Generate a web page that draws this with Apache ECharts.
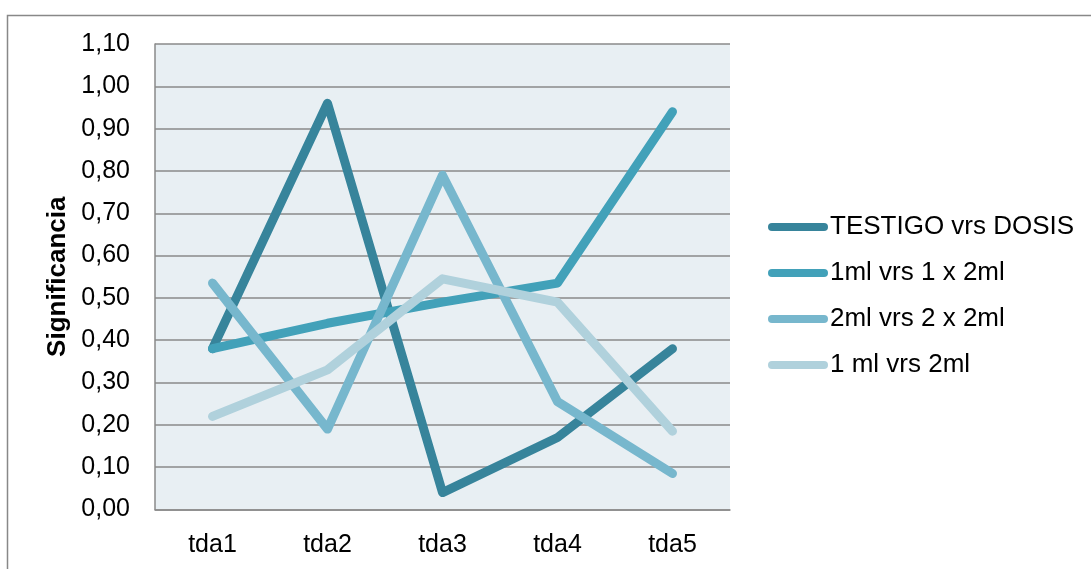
<!DOCTYPE html>
<html>
<head>
<meta charset="utf-8">
<script src="https://cdn.jsdelivr.net/npm/echarts@6/dist/echarts.min.js"></script>
<style>
  html, body { margin: 0; padding: 0; background: #ffffff; }
  #chart { width: 1091px; height: 569px; }
</style>
</head>
<body>
<div id="chart"></div>
<script>
// Categories and significance values per comparison
const categories = ['tda1', 'tda2', 'tda3', 'tda4', 'tda5'];
const seriesNames = ['TESTIGO vrs DOSIS', '1ml vrs 1 x 2ml', '2ml vrs 2 x 2ml', '1 ml vrs 2ml'];
const testigoVsDosis = [0.38, 0.96, 0.04, 0.17, 0.38];
const ml1Vs1x2ml = [0.38, 0.44, 0.49, 0.535, 0.94];
const ml2Vs2x2ml = [0.535, 0.19, 0.79, 0.255, 0.085];
const ml1Vs2ml = [0.22, 0.33, 0.545, 0.49, 0.185];
const yTicks = { min: 0, max: 1.1, step: 0.1 };

const colors = ['#37849B', '#42A1B9', '#77B7CD', '#B0D1DC'];
const seriesData = [testigoVsDosis, ml1Vs1x2ml, ml2Vs2x2ml, ml1Vs2ml];

const font = '"Liberation Sans", Arial, sans-serif';
const pill = 'path://M4,0 L56,0 A4,4 0 0 1 56,8 L4,8 A4,4 0 0 1 4,0 Z';

const chart = echarts.init(document.getElementById('chart'), null, { renderer: 'canvas' });

chart.setOption({
  animation: false,
  backgroundColor: '#ffffff',
  color: colors,
  textStyle: { fontFamily: font, color: '#000' },
  graphic: [{
    type: 'rect',
    shape: { x: 7.5, y: 15.5, width: 1095, height: 600 },
    style: { fill: 'none', stroke: '#888888', lineWidth: 1.5 },
    silent: true
  }],
  grid: {
    left: 155, top: 44, right: 361, bottom: 59.5,
    show: true, backgroundColor: '#E8EFF3', borderWidth: 0
  },
  legend: {
    orient: 'vertical',
    left: 768,
    top: 214,
    padding: 0,
    itemWidth: 60,
    itemHeight: 9,
    itemGap: 20,
    icon: pill,
    data: seriesNames,
    textStyle: { fontFamily: font, fontSize: 26, color: '#000', padding: [0, 0, 0, -3] }
  },
  xAxis: {
    type: 'category',
    data: categories,
    boundaryGap: true,
    axisLine: { show: true, lineStyle: { color: '#8a8a8a', width: 1.5 } },
    axisTick: { show: false },
    axisLabel: { fontFamily: font, fontSize: 25, color: '#000', margin: 23 },
    splitLine: { show: false }
  },
  yAxis: {
    type: 'value',
    min: yTicks.min,
    max: yTicks.max,
    interval: yTicks.step,
    name: 'Significancia',
    nameLocation: 'middle',
    nameRotate: 90,
    nameGap: 83,
    nameTextStyle: { fontFamily: font, fontSize: 26, fontWeight: 'bold', color: '#000' },
    axisLine: { show: true, lineStyle: { color: '#8a8a8a', width: 1.5 } },
    axisTick: { show: false },
    axisLabel: {
      fontFamily: font, fontSize: 25, color: '#000', margin: 25,
      formatter: v => v.toFixed(2).replace('.', ',')
    },
    splitLine: { show: true, lineStyle: { color: '#8a8a8a', width: 1.5 } }
  },
  series: seriesNames.map((name, i) => ({
    name,
    type: 'line',
    data: seriesData[i],
    showSymbol: false,
    symbol: 'none',
    lineStyle: { width: 9, color: colors[i], cap: 'round', join: 'round' },
    itemStyle: { color: colors[i] }
  }))
});
</script>
</body>
</html>
